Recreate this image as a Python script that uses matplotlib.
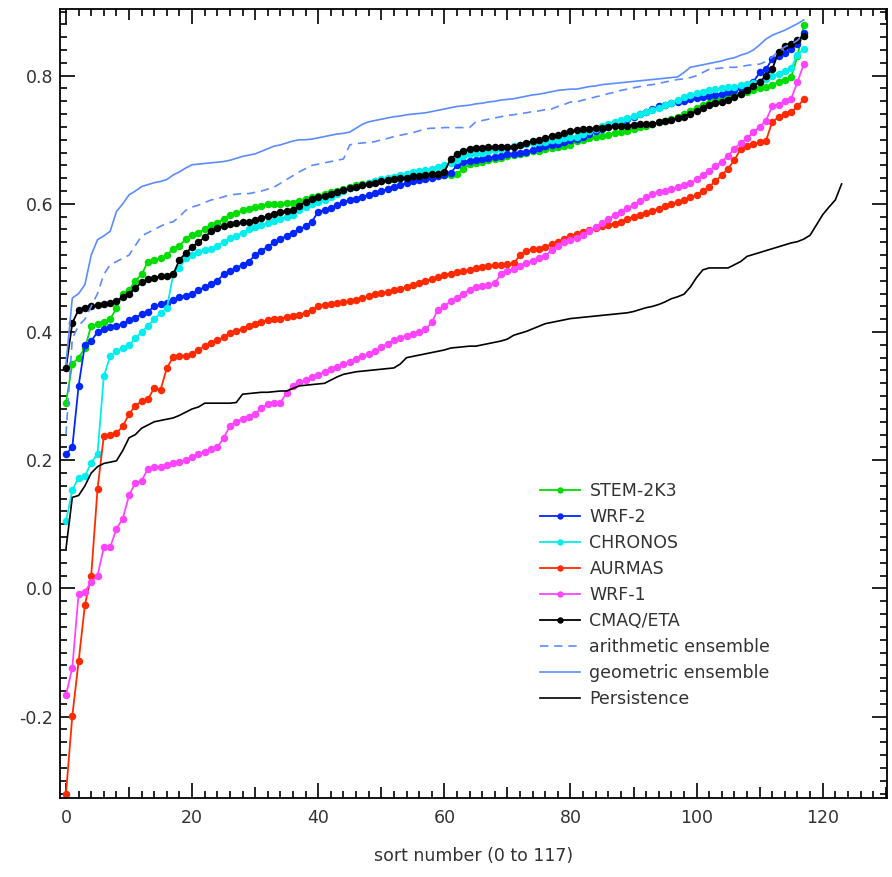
import matplotlib
matplotlib.use('Agg')
import matplotlib.pyplot as plt
from matplotlib.ticker import MultipleLocator
import numpy as np

# sorted scores, index 0..117 (persistence 0..123)
stem_2k3 = [0.29, 0.35, 0.36, 0.375, 0.41, 0.412, 0.415, 0.42, 0.437, 0.46,
            0.465, 0.48, 0.49, 0.51, 0.513, 0.515, 0.52, 0.53, 0.535, 0.545,
            0.552, 0.555, 0.56, 0.567, 0.57, 0.577, 0.583, 0.585, 0.59, 0.592,
            0.595, 0.597, 0.599, 0.599, 0.6, 0.601, 0.602, 0.605, 0.607, 0.61,
            0.612, 0.615, 0.618, 0.62, 0.623, 0.627, 0.629, 0.631, 0.633, 0.635,
            0.636, 0.637, 0.638, 0.64, 0.641, 0.643, 0.645, 0.646, 0.647, 0.646,
            0.645, 0.645, 0.646, 0.655, 0.662, 0.664, 0.666, 0.668, 0.67, 0.672,
            0.674, 0.676, 0.678, 0.68, 0.682, 0.683, 0.685, 0.687, 0.689, 0.69,
            0.692, 0.698, 0.70, 0.702, 0.704, 0.706, 0.708, 0.71, 0.712, 0.714,
            0.717, 0.72, 0.722, 0.724, 0.727, 0.729, 0.732, 0.736, 0.74, 0.745,
            0.75, 0.754, 0.758, 0.762, 0.765, 0.767, 0.77, 0.772, 0.775, 0.778,
            0.78, 0.782, 0.786, 0.79, 0.793, 0.798, 0.83, 0.879]

wrf_2 = [0.21, 0.22, 0.316, 0.38, 0.386, 0.40, 0.405, 0.408, 0.41, 0.413,
         0.418, 0.422, 0.428, 0.432, 0.44, 0.443, 0.445, 0.45, 0.455, 0.457,
         0.46, 0.465, 0.47, 0.475, 0.48, 0.49, 0.495, 0.50, 0.505, 0.51,
         0.52, 0.527, 0.533, 0.54, 0.545, 0.55, 0.555, 0.56, 0.565, 0.572,
         0.588, 0.59, 0.594, 0.598, 0.603, 0.606, 0.608, 0.611, 0.614, 0.617,
         0.62, 0.623, 0.626, 0.629, 0.632, 0.635, 0.637, 0.639, 0.641, 0.643,
         0.645, 0.648, 0.66, 0.666, 0.667, 0.668, 0.67, 0.671, 0.673, 0.675,
         0.677, 0.678, 0.68, 0.681, 0.684, 0.687, 0.69, 0.692, 0.694, 0.697,
         0.70, 0.701, 0.705, 0.709, 0.713, 0.717, 0.72, 0.724, 0.728, 0.732,
         0.736, 0.74, 0.744, 0.748, 0.752, 0.755, 0.757, 0.759, 0.761, 0.763,
         0.765, 0.767, 0.769, 0.77, 0.772, 0.775, 0.778, 0.78, 0.784, 0.79,
         0.805, 0.81, 0.826, 0.83, 0.835, 0.841, 0.85, 0.866]

chronos = [0.105, 0.153, 0.173, 0.175, 0.196, 0.21, 0.331, 0.362, 0.37, 0.375,
           0.38, 0.39, 0.40, 0.41, 0.42, 0.43, 0.437, 0.49, 0.50, 0.515,
           0.52, 0.525, 0.528, 0.53, 0.535, 0.54, 0.546, 0.55, 0.555, 0.56,
           0.564, 0.567, 0.57, 0.573, 0.577, 0.58, 0.583, 0.59, 0.595, 0.60,
           0.603, 0.606, 0.61, 0.615, 0.62, 0.624, 0.627, 0.63, 0.633, 0.636,
           0.638, 0.64, 0.642, 0.645, 0.647, 0.649, 0.651, 0.653, 0.655, 0.657,
           0.66, 0.663, 0.668, 0.675, 0.678, 0.679, 0.68, 0.682, 0.684, 0.686,
           0.688, 0.69, 0.692, 0.693, 0.695, 0.696, 0.697, 0.699, 0.70, 0.702,
           0.704, 0.705, 0.709, 0.713, 0.717, 0.721, 0.725, 0.728, 0.731, 0.734,
           0.737, 0.74, 0.743, 0.746, 0.75, 0.754, 0.758, 0.762, 0.766, 0.77,
           0.773, 0.775, 0.777, 0.779, 0.78, 0.782, 0.783, 0.785, 0.787, 0.789,
           0.79, 0.795, 0.80, 0.803, 0.808, 0.812, 0.832, 0.842]

aurmas = [-0.32, -0.199, -0.114, -0.026, 0.02, 0.155, 0.238, 0.24, 0.242, 0.253,
          0.272, 0.285, 0.292, 0.295, 0.313, 0.31, 0.344, 0.361, 0.362, 0.363,
          0.366, 0.372, 0.378, 0.383, 0.387, 0.392, 0.398, 0.402, 0.405, 0.41,
          0.413, 0.416, 0.418, 0.42, 0.421, 0.423, 0.425, 0.427, 0.43, 0.435,
          0.44, 0.442, 0.443, 0.445, 0.447, 0.448, 0.45, 0.453, 0.456, 0.459,
          0.461, 0.463, 0.465, 0.467, 0.47, 0.473, 0.476, 0.48, 0.483, 0.486,
          0.489, 0.491, 0.493, 0.495, 0.497, 0.50, 0.502, 0.503, 0.504, 0.505,
          0.506, 0.507, 0.52, 0.527, 0.529, 0.53, 0.533, 0.537, 0.541, 0.545,
          0.55, 0.553, 0.556, 0.559, 0.562, 0.565, 0.567, 0.569, 0.572, 0.576,
          0.58, 0.583, 0.586, 0.589, 0.592, 0.596, 0.60, 0.603, 0.606, 0.61,
          0.614, 0.62, 0.627, 0.635, 0.645, 0.655, 0.668, 0.686, 0.69, 0.693,
          0.696, 0.698, 0.728, 0.735, 0.74, 0.743, 0.752, 0.763]

wrf_1 = [-0.166, -0.124, -0.008, -0.005, 0.01, 0.02, 0.064, 0.064, 0.093, 0.109,
         0.145, 0.165, 0.168, 0.187, 0.189, 0.19, 0.192, 0.195, 0.198, 0.20,
         0.205, 0.21, 0.213, 0.218, 0.22, 0.235, 0.253, 0.26, 0.265, 0.268,
         0.272, 0.282, 0.287, 0.289, 0.29, 0.305, 0.316, 0.322, 0.325, 0.33,
         0.333, 0.338, 0.343, 0.346, 0.35, 0.354, 0.358, 0.362, 0.365, 0.37,
         0.376, 0.382, 0.387, 0.391, 0.394, 0.397, 0.40, 0.404, 0.415, 0.435,
         0.44, 0.448, 0.453, 0.46, 0.466, 0.471, 0.472, 0.473, 0.476, 0.491,
         0.495, 0.499, 0.503, 0.507, 0.511, 0.515, 0.518, 0.528, 0.535, 0.54,
         0.543, 0.546, 0.552, 0.558, 0.564, 0.57, 0.576, 0.582, 0.588, 0.593,
         0.598, 0.604, 0.61, 0.615, 0.618, 0.62, 0.623, 0.626, 0.629, 0.632,
         0.638, 0.645, 0.652, 0.659, 0.666, 0.675, 0.686, 0.695, 0.702, 0.712,
         0.72, 0.73, 0.752, 0.755, 0.76, 0.764, 0.79, 0.818]

cmaq_eta = [0.344, 0.414, 0.435, 0.437, 0.44, 0.442, 0.444, 0.446, 0.448, 0.455,
            0.46, 0.468, 0.478, 0.482, 0.485, 0.487, 0.488, 0.49, 0.513, 0.523,
            0.533, 0.54, 0.548, 0.557, 0.562, 0.566, 0.569, 0.57, 0.571, 0.572,
            0.575, 0.578, 0.581, 0.584, 0.588, 0.589, 0.59, 0.597, 0.603, 0.608,
            0.61, 0.612, 0.615, 0.618, 0.621, 0.624, 0.626, 0.629, 0.631, 0.633,
            0.635, 0.637, 0.638, 0.64, 0.641, 0.643, 0.644, 0.645, 0.646, 0.647,
            0.65, 0.67, 0.678, 0.683, 0.686, 0.687, 0.687, 0.688, 0.688, 0.689,
            0.689, 0.689, 0.692, 0.695, 0.698, 0.70, 0.703, 0.706, 0.708, 0.71,
            0.713, 0.715, 0.716, 0.717, 0.718, 0.719, 0.72, 0.721, 0.721, 0.722,
            0.723, 0.724, 0.725, 0.725, 0.727, 0.729, 0.731, 0.734, 0.736, 0.74,
            0.745, 0.75, 0.755, 0.758, 0.759, 0.762, 0.766, 0.772, 0.778, 0.784,
            0.79, 0.80, 0.81, 0.837, 0.846, 0.85, 0.855, 0.862]

arith_ens = [0.24, 0.39, 0.41, 0.42, 0.44, 0.46, 0.49, 0.505, 0.51, 0.515,
             0.52, 0.535, 0.55, 0.555, 0.56, 0.565, 0.57, 0.572, 0.58, 0.59,
             0.595, 0.598, 0.602, 0.606, 0.608, 0.611, 0.614, 0.615, 0.616, 0.616,
             0.618, 0.62, 0.623, 0.626, 0.632, 0.638, 0.644, 0.65, 0.655, 0.66,
             0.662, 0.664, 0.666, 0.668, 0.67, 0.692, 0.694, 0.695, 0.696, 0.697,
             0.70, 0.702, 0.705, 0.707, 0.709, 0.711, 0.714, 0.717, 0.718, 0.718,
             0.719, 0.719, 0.719, 0.719, 0.719, 0.728, 0.73, 0.732, 0.734, 0.736,
             0.738, 0.739, 0.741, 0.742, 0.744, 0.745, 0.747, 0.748, 0.752, 0.755,
             0.759, 0.759, 0.762, 0.764, 0.767, 0.769, 0.772, 0.774, 0.777, 0.779,
             0.781, 0.783, 0.785, 0.786, 0.788, 0.79, 0.792, 0.794, 0.795, 0.797,
             0.80, 0.805, 0.81, 0.811, 0.812, 0.813, 0.813, 0.814, 0.816, 0.817,
             0.818, 0.822, 0.829, 0.838, 0.845, 0.849, 0.855, 0.866]

geom_ens = [0.35, 0.453, 0.46, 0.474, 0.52, 0.544, 0.55, 0.557, 0.588, 0.60,
            0.614, 0.62, 0.627, 0.63, 0.633, 0.635, 0.638, 0.645, 0.65, 0.656,
            0.661, 0.662, 0.663, 0.664, 0.665, 0.666, 0.668, 0.671, 0.674, 0.676,
            0.678, 0.682, 0.686, 0.69, 0.692, 0.695, 0.698, 0.70, 0.70, 0.701,
            0.703, 0.705, 0.707, 0.709, 0.71, 0.712, 0.718, 0.724, 0.728, 0.73,
            0.732, 0.734, 0.736, 0.737, 0.739, 0.74, 0.741, 0.742, 0.744, 0.746,
            0.748, 0.75, 0.752, 0.753, 0.754, 0.756, 0.757, 0.759, 0.76, 0.762,
            0.763, 0.764, 0.766, 0.768, 0.77, 0.771, 0.773, 0.775, 0.777, 0.778,
            0.779, 0.779, 0.781, 0.783, 0.784, 0.786, 0.787, 0.788, 0.789, 0.79,
            0.791, 0.792, 0.793, 0.794, 0.795, 0.796, 0.797, 0.798, 0.805, 0.813,
            0.815, 0.817, 0.819, 0.821, 0.823, 0.826, 0.828, 0.832, 0.835, 0.84,
            0.848, 0.857, 0.863, 0.867, 0.871, 0.876, 0.881, 0.887]

persistence = [0.062, 0.142, 0.145, 0.16, 0.18, 0.19, 0.195, 0.197, 0.199, 0.215,
               0.235, 0.24, 0.25, 0.255, 0.26, 0.262, 0.264, 0.266, 0.27, 0.275,
               0.28, 0.283, 0.289, 0.289, 0.289, 0.289, 0.289, 0.29, 0.303, 0.304,
               0.305, 0.306, 0.306, 0.307, 0.308, 0.308, 0.312, 0.316, 0.317, 0.318,
               0.319, 0.32, 0.325, 0.33, 0.334, 0.336, 0.338, 0.339, 0.34, 0.341,
               0.342, 0.343, 0.344, 0.35, 0.36, 0.362, 0.364, 0.366, 0.368, 0.37,
               0.372, 0.375, 0.376, 0.377, 0.378, 0.378, 0.38, 0.382, 0.384, 0.386,
               0.389, 0.395, 0.398, 0.401, 0.405, 0.409, 0.413, 0.415, 0.417, 0.419,
               0.421, 0.422, 0.423, 0.424, 0.425, 0.426, 0.427, 0.428, 0.429, 0.43,
               0.432, 0.435, 0.438, 0.44, 0.443, 0.447, 0.452, 0.455, 0.459, 0.47,
               0.485, 0.497, 0.50, 0.50, 0.50, 0.50, 0.505, 0.51, 0.518, 0.521,
               0.524, 0.527, 0.53, 0.533, 0.536, 0.539, 0.541, 0.545, 0.551, 0.567,
               0.583, 0.595, 0.606, 0.631]

models = [('STEM-2K3', stem_2k3, '#00dd00'),
          ('WRF-2', wrf_2, '#0026ff'),
          ('CHRONOS', chronos, '#00eeee'),
          ('AURMAS', aurmas, '#ff2a00'),
          ('WRF-1', wrf_1, '#ff44ff'),
          ('CMAQ/ETA', cmaq_eta, 'black')]

ens_color = '#5b8cff'
txt_color = '#333333'

plt.rcParams['font.family'] = 'DejaVu Sans'
fig = plt.figure(figsize=(8.92, 8.77), dpi=100)
ax = fig.add_axes([60/892, 1 - 798/877, 827/892, 789/877])

for name, vals, col in models:
    ax.plot(np.arange(len(vals)), vals, color=col, lw=1.3, marker='o',
            markersize=5.4, markeredgewidth=0, label=name)

ax.plot(np.arange(len(arith_ens)), arith_ens, color=ens_color, lw=1.2,
        ls=(0, (5, 3.5)), label='arithmetic ensemble')
ax.plot(np.arange(len(geom_ens)), geom_ens, color=ens_color, lw=1.2,
        label='geometric ensemble')
ax.plot(np.arange(len(persistence)), persistence, color='black', lw=1.2,
        label='Persistence')

ax.set_xlim(-0.95, 130.2)
ax.set_ylim(-0.327, 0.904)

ax.xaxis.set_major_locator(MultipleLocator(20))
ax.xaxis.set_minor_locator(MultipleLocator(2))
ax.yaxis.set_major_locator(MultipleLocator(0.2))
ax.yaxis.set_minor_locator(MultipleLocator(0.02))
ax.set_yticks([-0.2, 0.0, 0.2, 0.4, 0.6, 0.8])
ax.set_yticklabels(['-0.2', '0.0', '0.2', '0.4', '0.6', '0.8'])

ax.tick_params(which='both', direction='in', top=True, right=True,
               width=1.2, colors='black', labelcolor=txt_color, labelsize=12.5)
ax.tick_params(which='major', length=10.5)
ax.tick_params(which='minor', length=5)
ax.tick_params(axis='x', which='major', pad=8)
ax.tick_params(axis='y', which='major', pad=5)

# medium-length ticks at odd multiples of 10 on the x axis
for tk, loc in zip(ax.xaxis.get_minor_ticks(), ax.xaxis.get_minorticklocs()):
    if abs(loc % 10) < 1e-6:
        tk.tick1line.set_markersize(8)
        tk.tick2line.set_markersize(8)

for sp in ax.spines.values():
    sp.set_linewidth(1.3)

ax.set_xlabel('sort number (0 to 117)', fontsize=12.5, color=txt_color,
              labelpad=14)

leg = ax.legend(loc='upper left', bbox_to_anchor=(540/892, 1 - 482/877),
                bbox_transform=fig.transFigure, frameon=False, fontsize=12.5,
                handlelength=2.3, handletextpad=0.55, labelspacing=0.46,
                borderpad=0, borderaxespad=0, numpoints=1, labelcolor=txt_color,
                markerscale=0.85)

fig.savefig('out.png', dpi=100)
